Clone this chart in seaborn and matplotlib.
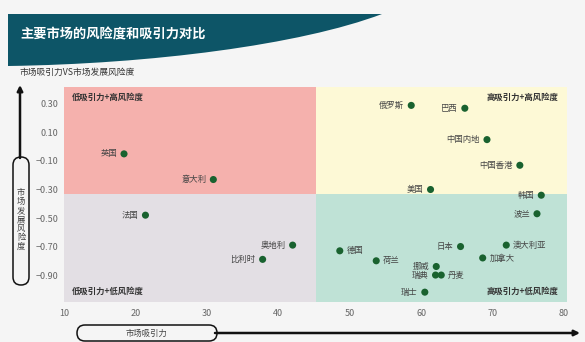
import matplotlib
matplotlib.use("Agg")
import matplotlib.pyplot as plt
import pandas as pd
import seaborn as sns
from matplotlib.patches import Rectangle, FancyBboxPatch, PathPatch
from matplotlib.path import Path

# ---- data -----------------------------------------------------------------
markets = ["英国", "意大利", "俄罗斯", "巴西", "中国内地", "中国香港", "美国",
           "韩国", "法国", "奥地利", "比利时", "德国", "荷兰", "挪威", "瑞典",
           "丹麦", "瑞士", "日本", "澳大利亚", "加拿大", "波兰"]
attractiveness = [18.4, 30.9, 58.6, 66.1, 69.2, 73.8, 61.3,
                  76.8, 21.4, 42.0, 37.8, 48.6, 53.7, 62.1, 62.0,
                  62.8, 60.5, 65.5, 71.9, 68.6, 76.2]
risk = [-0.05, -0.23, 0.29, 0.27, 0.05, -0.13, -0.30,
        -0.34, -0.48, -0.69, -0.79, -0.73, -0.80, -0.84, -0.90,
        -0.90, -1.02, -0.70, -0.69, -0.78, -0.47]

x_ticks = [10, 20, 30, 40, 50, 60, 70, 80]
y_ticks = [0.30, 0.10, -0.10, -0.30, -0.50, -0.70, -0.90]

attr_split = 45.2
risk_split = -0.33

quadrant_names = ["低吸引力+高风险度", "高吸引力+高风险度",
                  "低吸引力+低风险度", "高吸引力+低风险度"]

title = "主要市场的风险度和吸引力对比"
subtitle = "市场吸引力VS市场发展风险度"
x_title = "市场吸引力"
y_title = "市场发展风险度"

# names whose labels sit to the right of the dot
right_labeled = {"德国", "荷兰", "丹麦", "澳大利亚", "加拿大"}

# ---- style ----------------------------------------------------------------
sns.set_theme(style="white")
plt.rcParams["font.family"] = ["Noto Sans CJK SC", "DejaVu Sans"]

BG = "#f5f5f5"
PINK = "#f5b1ad"
YELLOW = "#fdf9d6"
GREY = "#e3dfe4"
TEAL = "#bfe2d6"
DOT = "#19622f"
BANNER = "#0d5567"

W, H = 585, 342
fig = plt.figure(figsize=(W / 100, H / 100), dpi=100, facecolor=BG)

# plot area in pixel terms
L, R, T, B = 64, 567, 87, 302
ax = fig.add_axes([L / W, 1 - B / H, (R - L) / W, (B - T) / H])
x_lo, x_hi = 10.0, 80.4
y_lo, y_hi = -1.089, 0.419
ax.set_xlim(x_lo, x_hi)
ax.set_ylim(y_lo, y_hi)

# quadrant backgrounds
quads = [
    (x_lo, risk_split, attr_split - x_lo, y_hi - risk_split, PINK),
    (attr_split, risk_split, x_hi - attr_split, y_hi - risk_split, YELLOW),
    (x_lo, y_lo, attr_split - x_lo, risk_split - y_lo, GREY),
    (attr_split, y_lo, x_hi - attr_split, risk_split - y_lo, TEAL),
]
for x0, y0, w, h, c in quads:
    ax.add_patch(Rectangle((x0, y0), w, h, facecolor=c, edgecolor="none", zorder=0))

df = pd.DataFrame({"market": markets, "attractiveness": attractiveness, "risk": risk})
sns.scatterplot(data=df, x="attractiveness", y="risk", color=DOT, s=26,
                edgecolor="none", legend=False, ax=ax, zorder=3)

for name, xv, yv in zip(markets, attractiveness, risk):
    if name in right_labeled:
        off, ha = (5, 0), "left"
    else:
        off, ha = (-5, 0), "right"
    ax.annotate(name, (xv, yv), xytext=off, textcoords="offset points",
                ha=ha, va="center", fontsize=6, color="#444444", zorder=4)

# quadrant captions
qlab = dict(fontsize=6, fontweight="bold", color="#333333",
            transform=ax.transAxes, va="center", zorder=4)
ax.text(0.016, 0.953, quadrant_names[0], ha="left", **qlab)
ax.text(0.982, 0.953, quadrant_names[1], ha="right", **qlab)
ax.text(0.016, 0.051, quadrant_names[2], ha="left", **qlab)
ax.text(0.982, 0.051, quadrant_names[3], ha="right", **qlab)

ax.set_xticks(x_ticks)
ax.set_xticklabels([str(v) for v in x_ticks])
ax.set_yticks(y_ticks)
ax.set_yticklabels([f"{v:.2f}".replace("-", "\u2212") for v in y_ticks])
ax.tick_params(axis="both", length=0, labelsize=6.5, labelcolor="#666666")
ax.tick_params(axis="y", pad=4)
ax.tick_params(axis="x", pad=5)
ax.set_xlabel("")
ax.set_ylabel("")
for sp in ax.spines.values():
    sp.set_visible(False)
ax.grid(False)

# ---- decorations drawn in pixel space --------------------------------------
deco = fig.add_axes([0, 0, 1, 1], zorder=5)
deco.set_xlim(0, W)
deco.set_ylim(H, 0)
deco.axis("off")
deco.patch.set_visible(False)

banner = Path(
    [(8, 14), (382, 14), (300, 45), (150, 64), (8, 66), (8, 14)],
    [Path.MOVETO, Path.LINETO, Path.CURVE4, Path.CURVE4, Path.CURVE4, Path.CLOSEPOLY],
)
deco.add_patch(PathPatch(banner, facecolor=BANNER, edgecolor="none"))
deco.text(20, 34, title, color="white", fontsize=9.5, fontweight="bold",
          va="center", ha="left")
deco.text(20, 72, subtitle, color="#333333", fontsize=6.3, va="center", ha="left")

# vertical axis: arrow with a capsule caption
deco.annotate("", xy=(20, 85), xytext=(20, 158),
              arrowprops=dict(arrowstyle="-|>", lw=1.8, color="#111111",
                              mutation_scale=8, shrinkA=0, shrinkB=0))
deco.add_patch(FancyBboxPatch((13, 157), 16, 128,
                              boxstyle="round,pad=0,rounding_size=8",
                              facecolor=BG, edgecolor="#111111", lw=1.1))
deco.text(21, 188, "\n".join(y_title), fontsize=6, color="#444444",
          ha="center", va="top", linespacing=1.0)

# horizontal axis: capsule caption with arrow
deco.annotate("", xy=(580, 333), xytext=(215, 333),
              arrowprops=dict(arrowstyle="-|>", lw=1.8, color="#111111",
                              mutation_scale=8, shrinkA=0, shrinkB=0))
deco.add_patch(FancyBboxPatch((77, 325), 140, 16,
                              boxstyle="round,pad=0,rounding_size=8",
                              facecolor=BG, edgecolor="#111111", lw=1.1))
deco.text(147, 333, x_title, fontsize=6, color="#444444", ha="center", va="center")

fig.savefig("out.png", dpi=100, facecolor=BG)
